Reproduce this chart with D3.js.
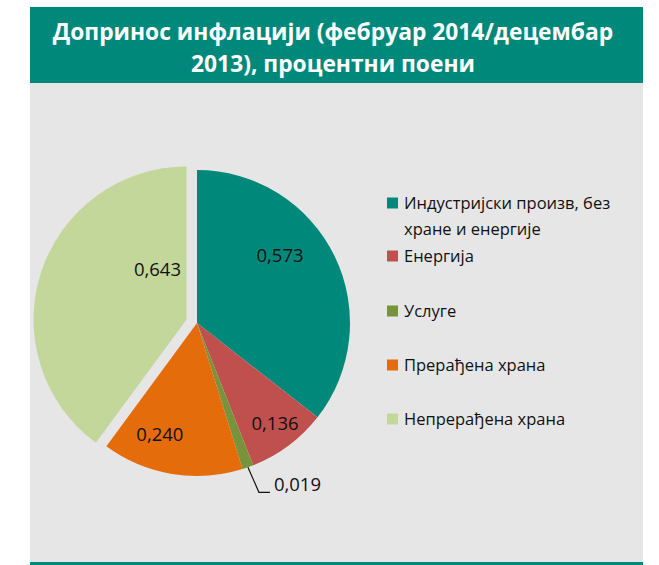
<!DOCTYPE html>
<html>
<head>
<meta charset="utf-8">
<script src="https://cdn.jsdelivr.net/npm/d3@7"></script>
<style>
body { margin: 0; background: #ffffff; }
svg text { font-family: "Open Sans", "Noto Sans", sans-serif; }
</style>
</head>
<body>
<svg id="chart" width="659" height="565"></svg>
<script>
// data
var categories = ["Индустријски произв, без хране и енергије", "Енергија", "Услуге", "Прерађена храна", "Непрерађена храна"];
var legendLines = [["Индустријски произв, без", "хране и енергије"], ["Енергија"], ["Услуге"], ["Прерађена храна"], ["Непрерађена храна"]];
var values = [0.573, 0.136, 0.019, 0.240, 0.643];
var colors = ["#00897b", "#c0504d", "#77933c", "#e46c0a", "#c4d79b"];
var titleLines = ["Допринос инфлацији (фебруар 2014/децембар", "2013), процентни поени"];

var svg = d3.select("#chart");
var fmt = function(v) { return d3.format(".3f")(v).replace(".", ","); };

// panel + header
svg.append("rect").attr("x", 30).attr("y", 83).attr("width", 613).attr("height", 480).style("fill", "#e6e6e6");
svg.append("rect").attr("x", 30).attr("y", 7).attr("width", 613).attr("height", 76).style("fill", "#00897b");
svg.append("rect").attr("x", 30).attr("y", 562).attr("width", 613).attr("height", 3).style("fill", "#00897b");

svg.selectAll(".title").data(titleLines).enter().append("text")
  .attr("class", "title")
  .attr("x", 333)
  .attr("y", function(d, i) { return 40 + i * 32; })
  .style("text-anchor", "middle").style("fill", "white").style("font-weight", "bold").style("font-size", "22.8px")
  .text(function(d) { return d; });

// pie
var cx = 197, cy = 323, r = 153, explode = 11;
var pie = d3.pie().sort(null).value(function(d) { return d; });
var arcs = pie(values);
var arc = d3.arc().innerRadius(0).outerRadius(r);

var g = svg.append("g").attr("transform", "translate(" + cx + "," + cy + ")");

function offset(d, i) {
  if (i != 4) return [0, 0];
  var a = (d.startAngle + d.endAngle) / 2;
  return [Math.sin(a) * explode, -Math.cos(a) * explode];
}

g.selectAll(".slice").data(arcs).enter().append("path")
  .attr("class", "slice")
  .attr("d", arc)
  .attr("transform", function(d, i) { var o = offset(d, i); return "translate(" + o[0] + "," + o[1] + ")"; })
  .style("fill", function(d, i) { return colors[i]; });

// label placement tweaks (angle shift in rad, radius fraction)
var labelTweak = [{da: -0.23, k: 0.70}, {da: -0.02, k: 0.83}, null, {da: 0.155, k: 0.77}, {da: 0.73, k: 0.38}];

g.selectAll(".lbl").data(arcs).enter().filter(function(d, i) { return labelTweak[i]; })
  .append("text")
  .attr("class", "lbl")
  .attr("transform", function(d, i) {
    var t = labelTweak[d.index], o = offset(d, d.index);
    var a = (d.startAngle + d.endAngle) / 2 + t.da;
    return "translate(" + (o[0] + Math.sin(a) * r * t.k) + "," + (o[1] - Math.cos(a) * r * t.k) + ")";
  })
  .attr("dy", "0.35em")
  .style("text-anchor", "middle").style("font-size", "18.5px").style("fill", "#111")
  .text(function(d) { return fmt(d.data); });

// leader label for small slice
var small = arcs[2];
var sa = (small.startAngle + small.endAngle) / 2;
var p0 = [Math.sin(sa) * r, -Math.cos(sa) * r];
var p1 = [p0[0] + 11, p0[1] + 25];
var p2 = [p1[0] + 11, p1[1]];
g.append("path").attr("d", d3.line()([p0, p1, p2])).style("fill", "none").style("stroke", "#111").style("stroke-width", 1.2);
g.append("text").attr("x", p2[0] + 4).attr("y", p2[1]).attr("dy", "-0.05em")
  .style("font-size", "18.5px").style("fill", "#111").text(fmt(small.data));

// legend
var legendY = [203, 256, 311, 365, 419];
var legend = svg.selectAll(".leg").data(categories).enter().append("g")
  .attr("class", "leg")
  .attr("transform", function(d, i) { return "translate(387," + legendY[i] + ")"; });
legend.append("rect").attr("x", 0).attr("y", -5.5).attr("width", 11).attr("height", 11)
  .style("fill", function(d, i) { return colors[i]; });
legend.each(function(d, i) {
  d3.select(this).selectAll("text").data(legendLines[i]).enter().append("text")
    .attr("x", 17).attr("y", function(t, j) { return j * 26; }).attr("dy", "0.35em")
    .style("font-size", "16.5px").style("fill", "#111").text(function(t) { return t; });
});
</script>
</body>
</html>
